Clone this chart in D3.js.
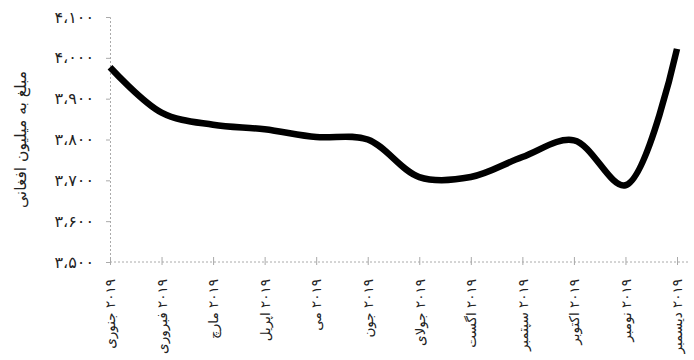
<!DOCTYPE html>
<html>
<head>
<meta charset="utf-8">
<script src="https://cdn.jsdelivr.net/npm/d3@7"></script>
<style>
  html, body { margin: 0; padding: 0; background: #fff; }
  svg { display: block; }
</style>
</head>
<body>
<svg id="chart" width="694" height="360"></svg>
<script>
const months = ["۲۰۱۹ جنوری", "۲۰۱۹ فبروری", "۲۰۱۹ مارچ", "۲۰۱۹ اپریل", "۲۰۱۹ می", "۲۰۱۹ جون",
                "۲۰۱۹ جولای", "۲۰۱۹ اگست", "۲۰۱۹ سپتمبر", "۲۰۱۹ اکتوبر", "۲۰۱۹ نومبر", "۲۰۱۹ دیسمبر"];
const values = [3977, 3866, 3836, 3825, 3806, 3800, 3708, 3708, 3757, 3798, 3688, 4022];
const yTicks = [3500, 3600, 3700, 3800, 3900, 4000, 4100];
const yTitle = "مبلغ به میلیون افغانی";

const svg = d3.select("#chart");
const mLeft = 110, mRight = 677, mTop = 17, mBottom = 262;

const x = d3.scalePoint().domain(months).range([mLeft, mRight]);
const y = d3.scaleLinear().domain([3500, 4100]).range([mBottom, mTop]);

const fa = "۰۱۲۳۴۵۶۷۸۹";
const toFa = s => String(s).replace(/[0-9]/g, d => fa[+d]).replace(/,/g, "،");
const fmt = v => toFa(d3.format(",")(v));

const font = "'DejaVu Sans', sans-serif";

// Y axis
const yAxis = svg.append("g").attr("transform", `translate(${mLeft},0)`)
  .call(d3.axisLeft(y).tickValues(yTicks).tickFormat(fmt).tickSize(4).tickPadding(12));
yAxis.select(".domain").attr("stroke", "#aaa").attr("stroke-dasharray", "2,2");
yAxis.selectAll(".tick line").attr("stroke", "#aaa");
yAxis.selectAll(".tick text").attr("font-family", font).attr("font-size", 16).attr("fill", "#222");

// X axis
const xAxis = svg.append("g").attr("transform", `translate(0,${mBottom})`)
  .call(d3.axisBottom(x).tickSizeInner(5).tickSizeOuter(0).tickPadding(10));
xAxis.select(".domain").attr("stroke", "#aaa").attr("stroke-dasharray", "2,2")
  .attr("d", `M${mLeft},0H690`);
xAxis.selectAll(".tick line").attr("stroke", "#aaa").attr("y1", -5).attr("y2", 3);
xAxis.selectAll(".tick text")
  .attr("font-family", font).attr("font-size", 13.5).attr("fill", "#222")
  .attr("direction", "rtl")
  .attr("text-anchor", "start")
  .attr("dy", "0.35em")
  .attr("transform", "translate(0,17) rotate(-90)")
  .attr("x", 0).attr("y", 0);

// Y title
svg.append("text")
  .attr("transform", `translate(21,${(mTop + mBottom) / 2}) rotate(-90)`)
  .attr("text-anchor", "middle")
  .attr("dy", "0.35em")
  .attr("font-family", font).attr("font-size", 15.5).attr("fill", "#222")
  .text(yTitle);

// Line
const line = d3.line()
  .x((d, i) => x(months[i]))
  .y(d => y(d))
  .curve(d3.curveCatmullRom.alpha(0.5));

svg.append("path")
  .datum(values)
  .attr("fill", "none")
  .attr("stroke", "#000")
  .attr("stroke-width", 6.5)
  .attr("stroke-linecap", "butt")
  .attr("stroke-linejoin", "round")
  .attr("d", line);
</script>
</body>
</html>
